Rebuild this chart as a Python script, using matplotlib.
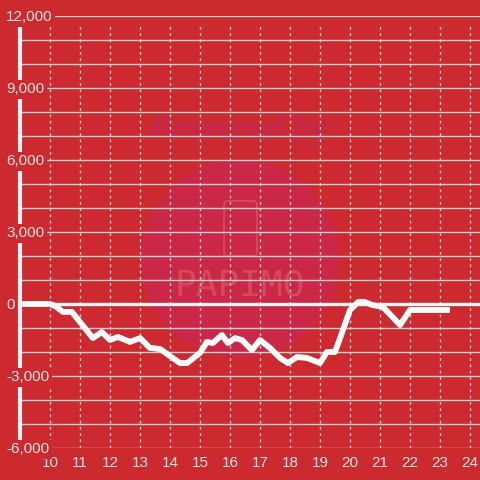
import matplotlib.pyplot as plt
from matplotlib.patches import Circle, FancyBboxPatch
from matplotlib.transforms import blended_transform_factory

# slot balance over the day (hour -> medals)
hours = [9.0, 10.0, 10.17, 10.43, 10.73, 11.43, 11.73, 12.0, 12.27, 12.67,
         13.0, 13.33, 13.67, 14.33, 14.57, 15.0, 15.23, 15.43, 15.73, 15.93,
         16.17, 16.4, 16.73, 17.0, 17.33, 17.67, 17.93, 18.23, 18.57, 19.0,
         19.23, 19.5, 19.73, 20.0, 20.27, 20.5, 20.73, 21.1, 21.67, 22.0,
         23.33]
balance = [0, 0, -80, -330, -330, -1420, -1170, -1500, -1375, -1580,
           -1420, -1830, -1875, -2460, -2460, -2040, -1580, -1625, -1290, -1625,
           -1420, -1500, -1920, -1500, -1830, -2250, -2460, -2210, -2250, -2460,
           -2000, -2000, -1210, -250, 80, 80, -40, -125, -875, -250,
           -250]

y_ticks = [-6000, -3000, 0, 3000, 6000, 9000, 12000]
x_ticks = list(range(10, 25))

BG = '#cc2a2f'
GRID = '#cfcfcf'
TXT = '#f4e4e4'

plt.rcParams['font.family'] = ['Liberation Sans', 'DejaVu Sans']

fig = plt.figure(figsize=(4.8, 4.8), dpi=100, facecolor=BG)

# watermark, behind the axes
px = fig.transFigure
fig.patches.append(Circle((240 / 480, 1 - 259 / 480), 99 / 480, transform=px,
                          facecolor='#cb2847', edgecolor='none', zorder=-2))
fig.text(240 / 480, 1 - 131 / 480, 'Powered by', ha='center', va='center',
         fontsize=23, fontweight='bold', style='italic', color='#c5284f',
         zorder=-1)
fig.text(240 / 480, 1 - 286 / 480, 'PAPIMO', ha='center', va='center',
         family='DejaVu Sans Mono', fontsize=26, color='#d85566', alpha=0.75,
         zorder=-1)
fig.patches.append(FancyBboxPatch((224 / 480, 1 - 256 / 480), 33 / 480, 55 / 480,
                                  boxstyle='round,pad=0,rounding_size=0.008',
                                  transform=px, facecolor='none',
                                  edgecolor='#d85566', lw=1.3, alpha=0.75,
                                  zorder=-1))

ax = fig.add_axes([20 / 480, 32 / 480, 460 / 480, 432 / 480])
ax.set_zorder(1)
ax.patch.set_visible(False)
ax.set_xlim(9, 9 + 460 / 30)
ax.set_ylim(-6000, 12000)

for s in ax.spines.values():
    s.set_visible(False)

# grid
for v in range(-6000, 12001, 1000):
    ax.axhline(v, color=GRID, lw=1, zorder=1)
for h in x_ticks:
    ax.axvline(h, ymax=0.982, color=GRID, lw=1, ls=(0, (2, 2.5)), zorder=1)

# axis line and zero line
ax.axvline(9, color='#f2f2f2', lw=3, zorder=2, clip_on=False)
ax.axhline(0, color='#f5f5f5', lw=2.4, zorder=2)

ax.plot(hours, balance, color='white', lw=4.2, solid_joinstyle='round',
        solid_capstyle='butt', zorder=3)

ax.set_xticks(x_ticks)
ax.set_xticklabels([str(h) for h in x_ticks])
ax.set_yticks([])
ax.tick_params(axis='x', length=0, pad=6, labelsize=11, labelcolor=TXT)

tr = blended_transform_factory(fig.transFigure, ax.transData)
for v in y_ticks:
    ax.text(6 / 480, v - 60, '{:,}'.format(v), transform=tr, ha='left',
            va='center', fontsize=11, color=TXT, zorder=5, clip_on=False,
            bbox=dict(facecolor=BG, edgecolor='none', pad=2))

fig.savefig('out.png', dpi=100, facecolor=BG)
